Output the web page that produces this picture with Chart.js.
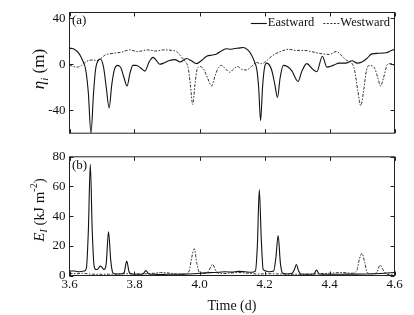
<!DOCTYPE html>
<html>
<head>
<meta charset="utf-8">
<script src="https://cdn.jsdelivr.net/npm/chart.js@4/dist/chart.umd.min.js"></script>
<style>
  html, body { margin: 0; padding: 0; background: #fff; }
  #wrap { position: relative; width: 414px; height: 315px; }
  #topChart { position: absolute; left: 0; top: 0; }
  #bottomChart { position: absolute; left: 0; top: 145px; }
</style>
</head>
<body>
<div id="wrap">
  <canvas id="topChart" width="414" height="145"></canvas>
  <canvas id="bottomChart" width="414" height="170"></canvas>
</div>
<script>
// tick labels
const timeTicks = [3.6, 3.8, 4.0, 4.2, 4.4, 4.6];
const etaTicks = [-40, 0, 40];
const energyTicks = [0, 20, 40, 60, 80];

// (a) isopycnal displacement, eastward wave
const eastEtaT = [3.600,3.615,3.630,3.640,3.650,3.658,3.666,3.674,3.680,3.690,3.695,3.705,3.713,3.722,3.730,3.738,3.748,3.758,3.768,3.777,
  3.786,3.795,3.805,3.818,3.832,3.845,3.857,3.868,3.878,3.890,3.905,3.925,3.940,3.960,3.975,3.991,4.005,4.022,4.040,4.053,
  4.070,4.083,4.095,4.105,4.120,4.135,4.150,4.160,4.168,4.176,4.182,4.188,4.194,4.200,4.207,4.222,4.232,4.240,4.248,4.258,
  4.270,4.285,4.295,4.303,4.315,4.330,4.349,4.361,4.378,4.392,4.411,4.430,4.450,4.470,4.485,4.500,4.515,4.530,4.550,4.575,
  4.590,4.600];
const eastEta = [14,13,9,3.5,-5,-25,-60,-25,-5,4,4.5,-3,-20,-38,-18,-5,-1,-3,-12,-19,
  -8,-1,-1,-3,-6,2,6,3,0,1,3,4,2,5,3,0.5,3,7,8,9,
  12,13.5,13,13.5,14,14.5,12,8,3,-4,-20,-49,-20,-3,1,-5,-18,-29,-12,-1,
  -2,-6,-12,-15,-6,0.5,-4.5,-6.5,7,-2.5,-1,1,1,3,1,2,5,9,9.5,10,
  12,13];

// (a) westward wave
const westEtaT = [3.600,3.612,3.625,3.637,3.650,3.662,3.674,3.684,3.694,3.710,3.735,3.760,3.785,3.810,3.840,3.865,3.890,3.915,3.930,3.945,
  3.957,3.965,3.972,3.979,3.986,3.993,4.001,4.012,4.025,4.037,4.048,4.058,4.068,4.080,4.093,4.105,4.117,4.130,4.145,4.160,
  4.175,4.190,4.200,4.210,4.226,4.247,4.275,4.298,4.324,4.344,4.370,4.400,4.421,4.436,4.452,4.467,4.477,4.487,4.496,4.505,
  4.514,4.524,4.539,4.549,4.557,4.566,4.579,4.593,4.600];
const westEta = [-0.5,-2,-2.5,-1,2,3.5,3.7,3,4.5,8,9.5,10.5,12.5,11,12.5,11.5,12.5,12,11,6,
  2,-3,-18,-35,-18,-4,-2,-4,-12,-19,-10,-3,-1,-4,-7,-4,-2,-4.5,-5,-2,
  1.5,0.5,1.5,4,7.8,10.8,13,12,12,11,9.4,8.5,11,7.8,3.4,1.5,-5,-23,-36,-23,
  -5,-1,-3.6,-12,-19,-12,0,0.6,-2];

// (b) energy, eastward wave
const eastET = [3.600,3.615,3.630,3.645,3.652,3.658,3.664,3.670,3.676,3.682,3.688,3.694,3.700,3.706,3.713,3.720,3.727,3.733,3.740,3.755,
  3.768,3.776,3.784,3.792,3.810,3.826,3.835,3.844,3.860,3.880,3.900,3.920,3.940,3.960,3.980,4.000,4.020,4.040,4.060,4.080,
  4.100,4.120,4.140,4.160,4.172,4.178,4.184,4.190,4.196,4.205,4.215,4.228,4.235,4.242,4.249,4.256,4.270,4.285,4.292,4.298,
  4.305,4.312,4.330,4.352,4.360,4.368,4.390,4.420,4.450,4.480,4.510,4.540,4.570,4.600];
const eastE = [3,3,2.5,3,5,30,75,30,6,4,4.5,6.3,5.5,4,8,29.5,10,2,1,1,
  2,9.7,2,1,0.8,1,3.3,1,0.8,0.7,0.8,0.8,0.9,1,1.2,1.5,1.8,2,2.2,2.5,
  2.3,2.8,2.5,2.2,3,20,58,25,4,3,2.5,3,12,27,8,1.5,1,1.5,4,7.4,
  3,1,0.8,1,3.7,1,0.8,0.8,0.9,0.9,1,1.2,1.5,2];

// (b) westward wave
const westET = [3.600,3.620,3.640,3.660,3.700,3.740,3.780,3.820,3.860,3.880,3.900,3.930,3.955,3.968,3.976,3.984,3.992,4.000,4.015,4.028,
  4.040,4.052,4.065,4.090,4.120,4.150,4.180,4.210,4.250,4.300,4.350,4.400,4.440,4.470,4.485,4.492,4.500,4.508,4.516,4.530,
  4.545,4.556,4.567,4.578,4.600];
const westE = [1.5,1.2,1.5,1,0.8,1,1.2,1,1.5,2,1.8,1,0.8,3,12,18,8,2,1.5,3,
  7.5,2.5,1.2,1.5,2,1.5,1,1.2,1,0.8,1,1.5,2,1.5,4,11,15,9,2,1,
  2,7,3,0.8,0.5];

const FONT = "'Liberation Serif', 'Times New Roman', serif";
Chart.defaults.font.family = FONT;
Chart.defaults.font.size = 13;
Chart.defaults.color = '#111';

const pts = (ts, vs) => ts.map((t, i) => ({ x: t, y: vs[i] }));
const solidStyle = { borderColor: '#111', borderWidth: 1.1, pointRadius: 0, cubicInterpolationMode: 'monotone', fill: false };
const dashStyle = { borderColor: '#333', borderWidth: 1, borderDash: [3, 1.5, 1.5, 1.5], pointRadius: 0, cubicInterpolationMode: 'monotone', fill: false };

// draw text made of runs (italic, sub/superscript), rotated for y titles
function drawRuns(ctx, runs, cx, cy, size) {
  ctx.save();
  ctx.translate(cx, cy);
  ctx.rotate(-Math.PI / 2);
  ctx.textBaseline = 'middle';
  ctx.textAlign = 'left';
  const fontOf = r => `${r.it ? 'italic ' : ''}${r.sub || r.sup ? Math.round(size * 0.65) : size}px ${FONT}`;
  let w = 0;
  runs.forEach(r => { ctx.font = fontOf(r); w += ctx.measureText(r.t).width; });
  let x = -w / 2;
  runs.forEach(r => {
    ctx.font = fontOf(r);
    const dy = r.sub ? size * 0.3 : r.sup ? -size * 0.35 : 0;
    ctx.fillText(r.t, x, dy);
    x += ctx.measureText(r.t).width;
  });
  ctx.restore();
}

const frame = {
  id: 'frame',
  afterDraw(chart, args, opts) {
    const { ctx, chartArea: a, scales: { x, y } } = chart;
    ctx.save();
    ctx.strokeStyle = '#222';
    ctx.lineWidth = 1;
    ctx.strokeRect(a.left, a.top, a.right - a.left, a.bottom - a.top);
    // inward ticks on all four sides
    const len = 4;
    ctx.beginPath();
    x.ticks.forEach(t => {
      const px = Math.round(x.getPixelForValue(t.value)) + 0.5;
      ctx.moveTo(px, a.bottom); ctx.lineTo(px, a.bottom - len);
      ctx.moveTo(px, a.top); ctx.lineTo(px, a.top + len);
    });
    y.ticks.forEach(t => {
      const py = Math.round(y.getPixelForValue(t.value)) + 0.5;
      ctx.moveTo(a.left, py); ctx.lineTo(a.left + len, py);
      ctx.moveTo(a.right, py); ctx.lineTo(a.right - len, py);
    });
    ctx.stroke();

    ctx.fillStyle = '#111';
    ctx.font = `13px ${FONT}`;
    ctx.textBaseline = 'middle';
    ctx.textAlign = 'left';
    ctx.fillText(opts.panel, a.left + 2.5, a.top + 8.5);

    drawRuns(ctx, opts.title, 40, opts.titleY, opts.titleSize);

    if (opts.legend) {
      const ly = a.top + 10.5;
      const ds = chart.data.datasets;
      ctx.font = `12.5px ${FONT}`;
      let right = a.right - 4.5;
      for (let i = ds.length - 1; i >= 0; i--) {
        const tw = ctx.measureText(ds[i].label).width;
        const tx = right - tw;
        ctx.fillText(ds[i].label, tx, ly);
        ctx.beginPath();
        ctx.strokeStyle = ds[i].borderColor;
        ctx.lineWidth = ds[i].borderWidth;
        ctx.setLineDash(ds[i].borderDash ? [2, 1.5] : []);
        ctx.moveTo(tx - 17, ly + 0.5);
        ctx.lineTo(tx - 1, ly + 0.5);
        ctx.stroke();
        ctx.setLineDash([]);
        right = tx - 26;
      }
    }
    ctx.restore();
  }
};

const xScale = (showTicks, height) => ({
  type: 'linear',
  min: 3.6,
  max: 4.6,
  afterBuildTicks: s => { s.ticks = timeTicks.map(v => ({ value: v })); },
  afterFit: s => { s.height = height; },
  grid: { display: false, drawTicks: false },
  border: { display: false },
  ticks: { display: showTicks, padding: 1, callback: v => v.toFixed(1) },
  title: { display: showTicks, text: 'Time (d)', font: { size: 14 }, padding: { top: 0, bottom: 0 } }
});

const yScale = (min, max, tickList) => ({
  min, max,
  afterBuildTicks: s => { s.ticks = tickList.map(v => ({ value: v })); },
  afterFit: s => { s.width = 69.5; },
  grid: { display: false, drawTicks: false },
  border: { display: false },
  ticks: { padding: 4 }
});

new Chart(document.getElementById('topChart'), {
  type: 'line',
  data: {
    datasets: [
      { label: 'Eastward', data: pts(eastEtaT, eastEta), ...solidStyle },
      { label: 'Westward', data: pts(westEtaT, westEta), ...dashStyle }
    ]
  },
  options: {
    responsive: false,
    animation: false,
    layout: { padding: { left: 0, top: 12.5, right: 19.5, bottom: 0 } },
    plugins: {
      legend: { display: false },
      tooltip: { enabled: false },
      frame: {
        panel: '(a)', titleY: 69, titleSize: 17, legend: true,
        title: [{ t: 'η', it: true }, { t: 'i', it: true, sub: true }, { t: ' (m)' }]
      }
    },
    scales: { x: xScale(false, 9.5), y: yScale(-60, 45, etaTicks) }
  },
  plugins: [frame]
});

new Chart(document.getElementById('bottomChart'), {
  type: 'line',
  data: {
    datasets: [
      { label: 'Eastward', data: pts(eastET, eastE), ...solidStyle },
      { label: 'Westward', data: pts(westET, westE), ...dashStyle }
    ]
  },
  options: {
    responsive: false,
    animation: false,
    layout: { padding: { left: 0, top: 7.5, right: 19.5, bottom: 0 } },
    plugins: {
      legend: { display: false },
      tooltip: { enabled: false },
      frame: {
        panel: '(b)', titleY: 65, titleSize: 15, legend: false,
        title: [{ t: 'E', it: true }, { t: 'I', it: true, sub: true }, { t: ' (kJ m' }, { t: '-2', sup: true }, { t: ')' }]
      }
    },
    scales: { x: xScale(true, 39.5), y: yScale(0, 80, energyTicks) }
  },
  plugins: [frame]
});
</script>
</body>
</html>
